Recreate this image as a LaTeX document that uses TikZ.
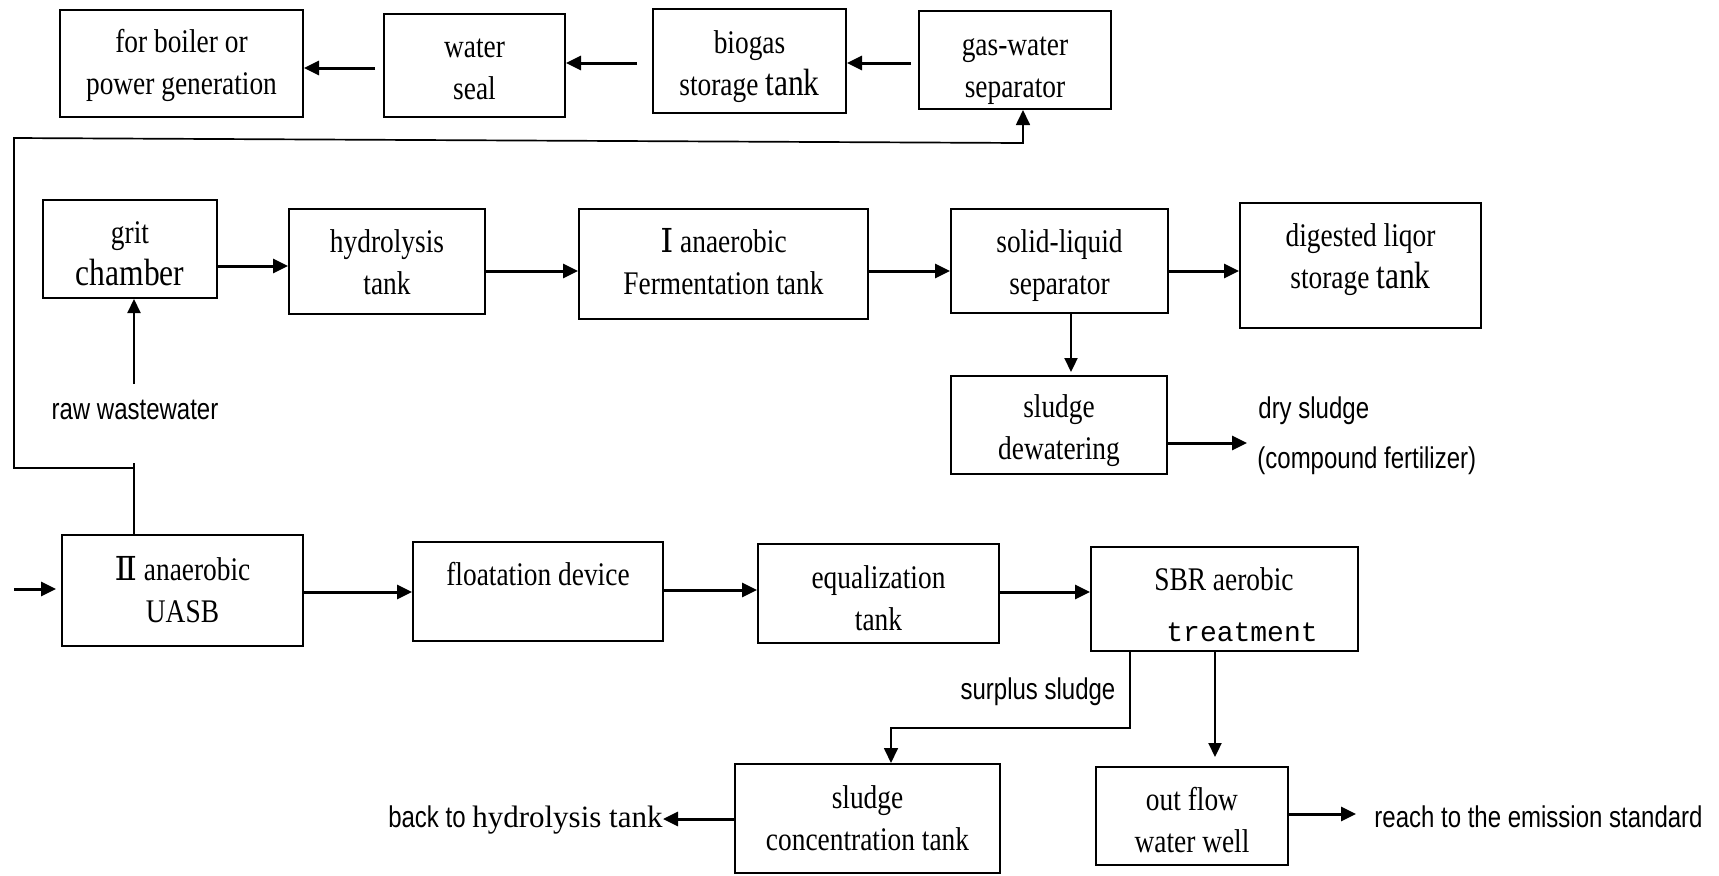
\documentclass[tikz,border=0pt]{standalone}
\usepackage{fontspec}
\setmainfont{Liberation Serif}[FakeStretch=0.83]
\newfontfamily\labfam{Liberation Sans}[FakeStretch=0.8]
\newfontfamily\monofam{Liberation Mono}
\newfontfamily\wideserif{Liberation Serif}
\newfontfamily\numfam{DejaVu Serif}
\usetikzlibrary{arrows.meta,fit,calc}

\newcommand\boxfont{\fontsize{16.5}{21}\selectfont}
\newcommand\labfont{\labfam\fontsize{15}{18}\selectfont}
\newcommand\bigword[1]{{\fontsize{19}{21}\selectfont #1}}

\begin{document}
\begin{tikzpicture}[x=0.5pt,y=-0.5pt,
  box/.style={draw, line width=1pt, inner sep=0pt},
  txt/.style={align=center, font=\boxfont, inner sep=0pt},
  lab/.style={font=\labfont, inner sep=0pt},
  flow/.style={line width=1.5pt, -{Triangle[length=7.5pt,width=7pt]}},
  feed/.style={line width=1.1pt, -{Triangle[length=7pt,width=6.5pt]}},
  pipe/.style={line width=0.85pt},
  pipetip/.style={line width=0.85pt, -{Triangle[length=7.5pt,width=7pt]}},
]
\useasboundingbox (0,0) rectangle (1719,875);

% ---------- gas line ----------
\node[box, fit={(60,10)(303,117)}] (boil) {};
\node[txt] (boilt) at (181.5,65) {for boiler or\\power generation};
\node[box, fit={(384,14)(565,117)}] (ws) {};
\node[txt] (wst) at (474.5,69) {water\\seal};
\node[box, fit={(653,9)(846,113)}] (bio) {};
\node[txt] (biot) at (749.5,67) {biogas\\storage \bigword{tank}};
\node[box, fit={(919,11)(1111,109)}] (gw) {};
\node[txt] (gwt) at (1015,71) {gas-water\\separator};

\draw[flow, shorten <=4pt] (ws.west |- 0,68) -- (boil.east |- 0,68);
\draw[flow, shorten <=7.5pt] (bio.west |- 0,63) -- (ws.east |- 0,63);
\draw[flow, shorten <=3.5pt] (gw.west |- 0,63) -- (bio.east |- 0,63);

% ---------- sludge line ----------
\node[box, fit={(43,200)(217,298)}] (grit) {};
\node[txt] (gritt) at (130,254) {grit\\\bigword{chamber}};
\node[box, fit={(289,209)(485,314)}] (hyd) {};
\node[txt] (hydt) at (387,262) {hydrolysis\\tank};
\node[box, fit={(579,209)(868,319)}] (ferm) {};
\node[txt] (fermt) at (723.5,262) {{\numfam Ⅰ} anaerobic\\Fermentation tank};
\node[box, fit={(951,209)(1168,313)}] (sep) {};
\node[txt] (sept) at (1059.5,266) {solid-liquid\\separator};
\node[box, fit={(1240,203)(1481,328)}] (dig) {};
\node[txt] (digt) at (1360.5,259.5) {digested liqor\\storage \bigword{tank}};
\node[box, fit={(951,376)(1167,474)}] (dew) {};
\node[txt] (dewt) at (1059,431) {sludge\\dewatering};

\draw[flow] (grit.east |- 0,266) -- (hyd.west |- 0,266);
\draw[flow] (hyd.east |- 0,271) -- (ferm.west |- 0,271);
\draw[flow] (ferm.east |- 0,271) -- (sep.west |- 0,271);
\draw[flow] (sep.east |- 0,271) -- (dig.west |- 0,271);
\draw[feed, shorten >=1.5pt] (sep.south -| 1071,0) -- (dew.north -| 1071,0);

\node[lab, anchor=base] (raw) at (135,419) {raw wastewater};
\draw[feed, shorten <=7.5pt] (raw.north -| 134,0) -- (grit.south -| 134,0);

\node[lab, anchor=base west] (dry) at (1258,418) {dry sludge};
\node[lab, anchor=base west] (fert) at (1257,468) {(compound fertilizer)};
\coordinate (dryin) at (1247,443);
\draw[flow] (dew.east |- dryin) -- (dryin);

% ---------- wastewater line ----------
\node[box, fit={(62,535)(303,646)}] (uasb) {};
\node[txt] (uasbt) at (182.5,590) {{\numfam Ⅱ} anaerobic\\UASB};
\node[box, fit={(413,542)(663,641)}] (flo) {};
\node[txt] (flot) at (538,574) {floatation device};
\node[box, fit={(758,544)(999,643)}] (eq) {};
\node[txt] (eqt) at (878.5,598) {equalization\\tank};
\node[box, fit={(1091,547)(1358,651)}] (sbr) {};
\node[txt, anchor=base] (sbrt) at (1224,590) {SBR aerobic};
\node[anchor=base, inner sep=0pt, font=\monofam\fontsize{14}{16}\selectfont] (sbrm) at (1242,641) {treatment};
\node[box, fit={(735,764)(1000,873)}] (conc) {};
\node[txt] (conct) at (867.5,818) {sludge\\concentration tank};
\node[box, fit={(1096,767)(1288,865)}] (out) {};
\node[txt] (outt) at (1192,820.5) {out flow\\water well};

\coordinate (inlet) at (14,589);
\draw[flow, shorten >=2.5pt] (inlet) -- (uasb.west |- inlet);
\draw[flow] (uasb.east |- 0,592) -- (flo.west |- 0,592);
\draw[flow] (flo.east |- 0,590) -- (eq.west |- 0,590);
\draw[flow] (eq.east |- 0,592) -- (sbr.west |- 0,592);

% biogas from the UASB back up to the gas-water separator
\coordinate (lpT) at (134,463);
\coordinate (lpA) at (134,468);
\coordinate (lpB) at (14,468);
\coordinate (lpC) at (14,138);
\coordinate (lpD) at (1023,143);
\draw[pipe] (lpA) -- (lpT);
\draw[pipetip] (uasb.north -| lpA) -- (lpA) -- (lpB) -- (lpC) -- (lpD) -- (lpD |- gw.south);

% surplus sludge
\coordinate (sA) at (1130,728);
\coordinate (sB) at (891,728);
\draw[pipetip] (sbr.south -| sA) -- (sA) -- (sB) -- (sB |- conc.north);
\node[lab, anchor=base] (surp) at (1038,699) {surplus sludge};

% treated effluent
\draw[feed, shorten >=4.5pt] (sbr.south -| 1215,0) -- (out.north -| 1215,0);
\node[lab, anchor=base west] (reach) at (1374,827) {reach to the emission standard};
\draw[flow, shorten >=9pt] (out.east |- 0,814) -- (reach.west |- 0,814);

\node[anchor=base east, inner sep=0pt] (back) at (663,827)
  {{\labfont back to }{\wideserif\fontsize{15.5}{18}\selectfont hydrolysis tank}};
\draw[flow] (conc.west |- 0,819) -- (back.east |- 0,819);
\end{tikzpicture}
\end{document}
